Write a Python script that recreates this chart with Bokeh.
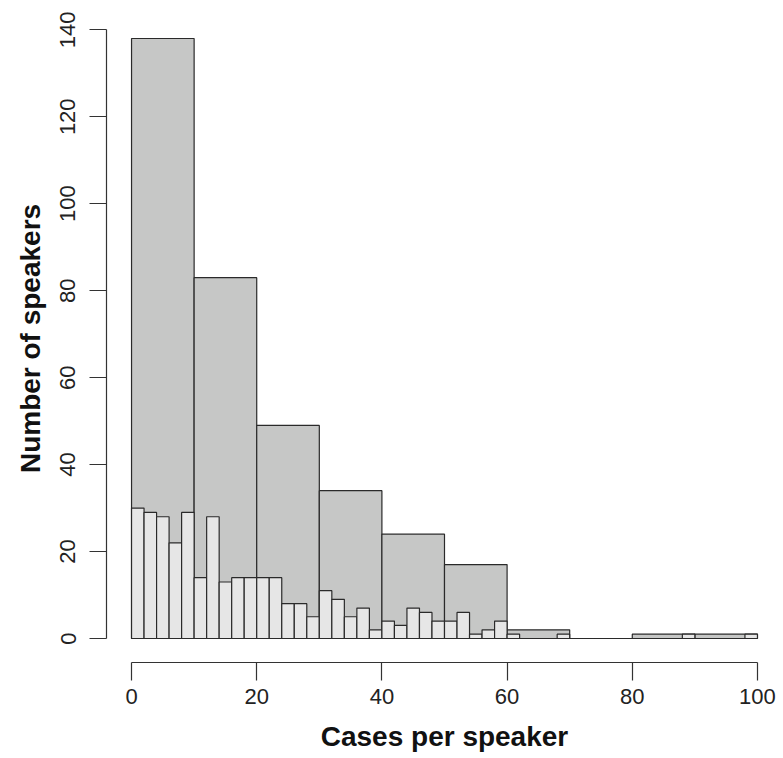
import math
from bokeh.plotting import figure
from bokeh.models import FixedTicker, Range1d, ColumnDataSource
from bokeh.embed import file_html
from bokeh.resources import INLINE

# Data: histogram of cases per speaker
big_edges = [0, 10, 20, 30, 40, 50, 60, 70, 80, 90, 100]
big_counts = [138, 83, 49, 34, 24, 17, 2, 0, 1, 1]

small_edges = list(range(0, 101, 2))
small_counts = [30, 29, 28, 22, 29,
                14, 28, 13, 14, 14,
                14, 14, 8, 8, 5,
                11, 9, 5, 7, 2,
                4, 3, 7, 6, 4,
                4, 6, 1, 2, 4,
                1, 0, 0, 0, 1,
                0, 0, 0, 0, 0,
                0, 0, 0, 0, 1,
                0, 0, 0, 0, 1]

x_ticks = [0, 20, 40, 60, 80, 100]
y_ticks = [0, 20, 40, 60, 80, 100, 120, 140]

big_src = ColumnDataSource(dict(left=big_edges[:-1], right=big_edges[1:],
                                top=big_counts, bottom=[0] * len(big_counts)))
small_src = ColumnDataSource(dict(left=small_edges[:-1], right=small_edges[1:],
                                  top=small_counts, bottom=[0] * len(small_counts)))

p = figure(width=783, height=758,
           x_range=Range1d(-4, 104), y_range=Range1d(-5.52, 143.52),
           output_backend="svg", toolbar_location=None,
           min_border_left=106, min_border_right=1,
           min_border_top=14, min_border_bottom=96)

p.quad(left="left", right="right", top="top", bottom="bottom", source=big_src,
       fill_color="#c6c7c6", line_color="#2a2a2a", line_width=1.2)
p.quad(left="left", right="right", top="top", bottom="bottom", source=small_src,
       fill_color="#e6e6e6", line_color="#2a2a2a", line_width=1.2)

p.outline_line_color = None
p.grid.visible = False
p.background_fill_color = "white"
p.border_fill_color = "white"

font = "Liberation Sans"

xa = p.xaxis[0]
xa.ticker = FixedTicker(ticks=x_ticks)
xa.bounds = (0, 100)
xa.minor_tick_line_color = None
xa.major_tick_in = 0
xa.major_tick_out = 18
xa.axis_line_color = "#333333"
xa.major_tick_line_color = "#333333"
xa.axis_line_width = 1.2
xa.major_tick_line_width = 1.2
xa.major_label_text_font = font
xa.major_label_text_font_size = "22px"
xa.major_label_text_color = "#222222"
xa.major_label_standoff = 8
xa.axis_label = "Cases per speaker"
xa.axis_label_text_font = font
xa.axis_label_text_font_size = "28px"
xa.axis_label_text_font_style = "bold"
xa.axis_label_text_color = "#111111"
xa.axis_label_standoff = 14

ya = p.yaxis[0]
ya.ticker = FixedTicker(ticks=y_ticks)
ya.bounds = (0, 140)
ya.minor_tick_line_color = None
ya.major_tick_in = 0
ya.major_tick_out = 17
ya.axis_line_color = "#333333"
ya.major_tick_line_color = "#333333"
ya.axis_line_width = 1.2
ya.major_tick_line_width = 1.2
ya.major_label_text_font = font
ya.major_label_text_font_size = "22px"
ya.major_label_text_color = "#222222"
ya.major_label_orientation = "vertical"
ya.major_label_standoff = 14
ya.axis_label = "Number of speakers"
ya.axis_label_text_font = font
ya.axis_label_text_font_size = "28px"
ya.axis_label_text_font_style = "bold"
ya.axis_label_text_color = "#111111"
ya.axis_label_standoff = 12

open("out.html", "w").write(file_html(p, INLINE))
